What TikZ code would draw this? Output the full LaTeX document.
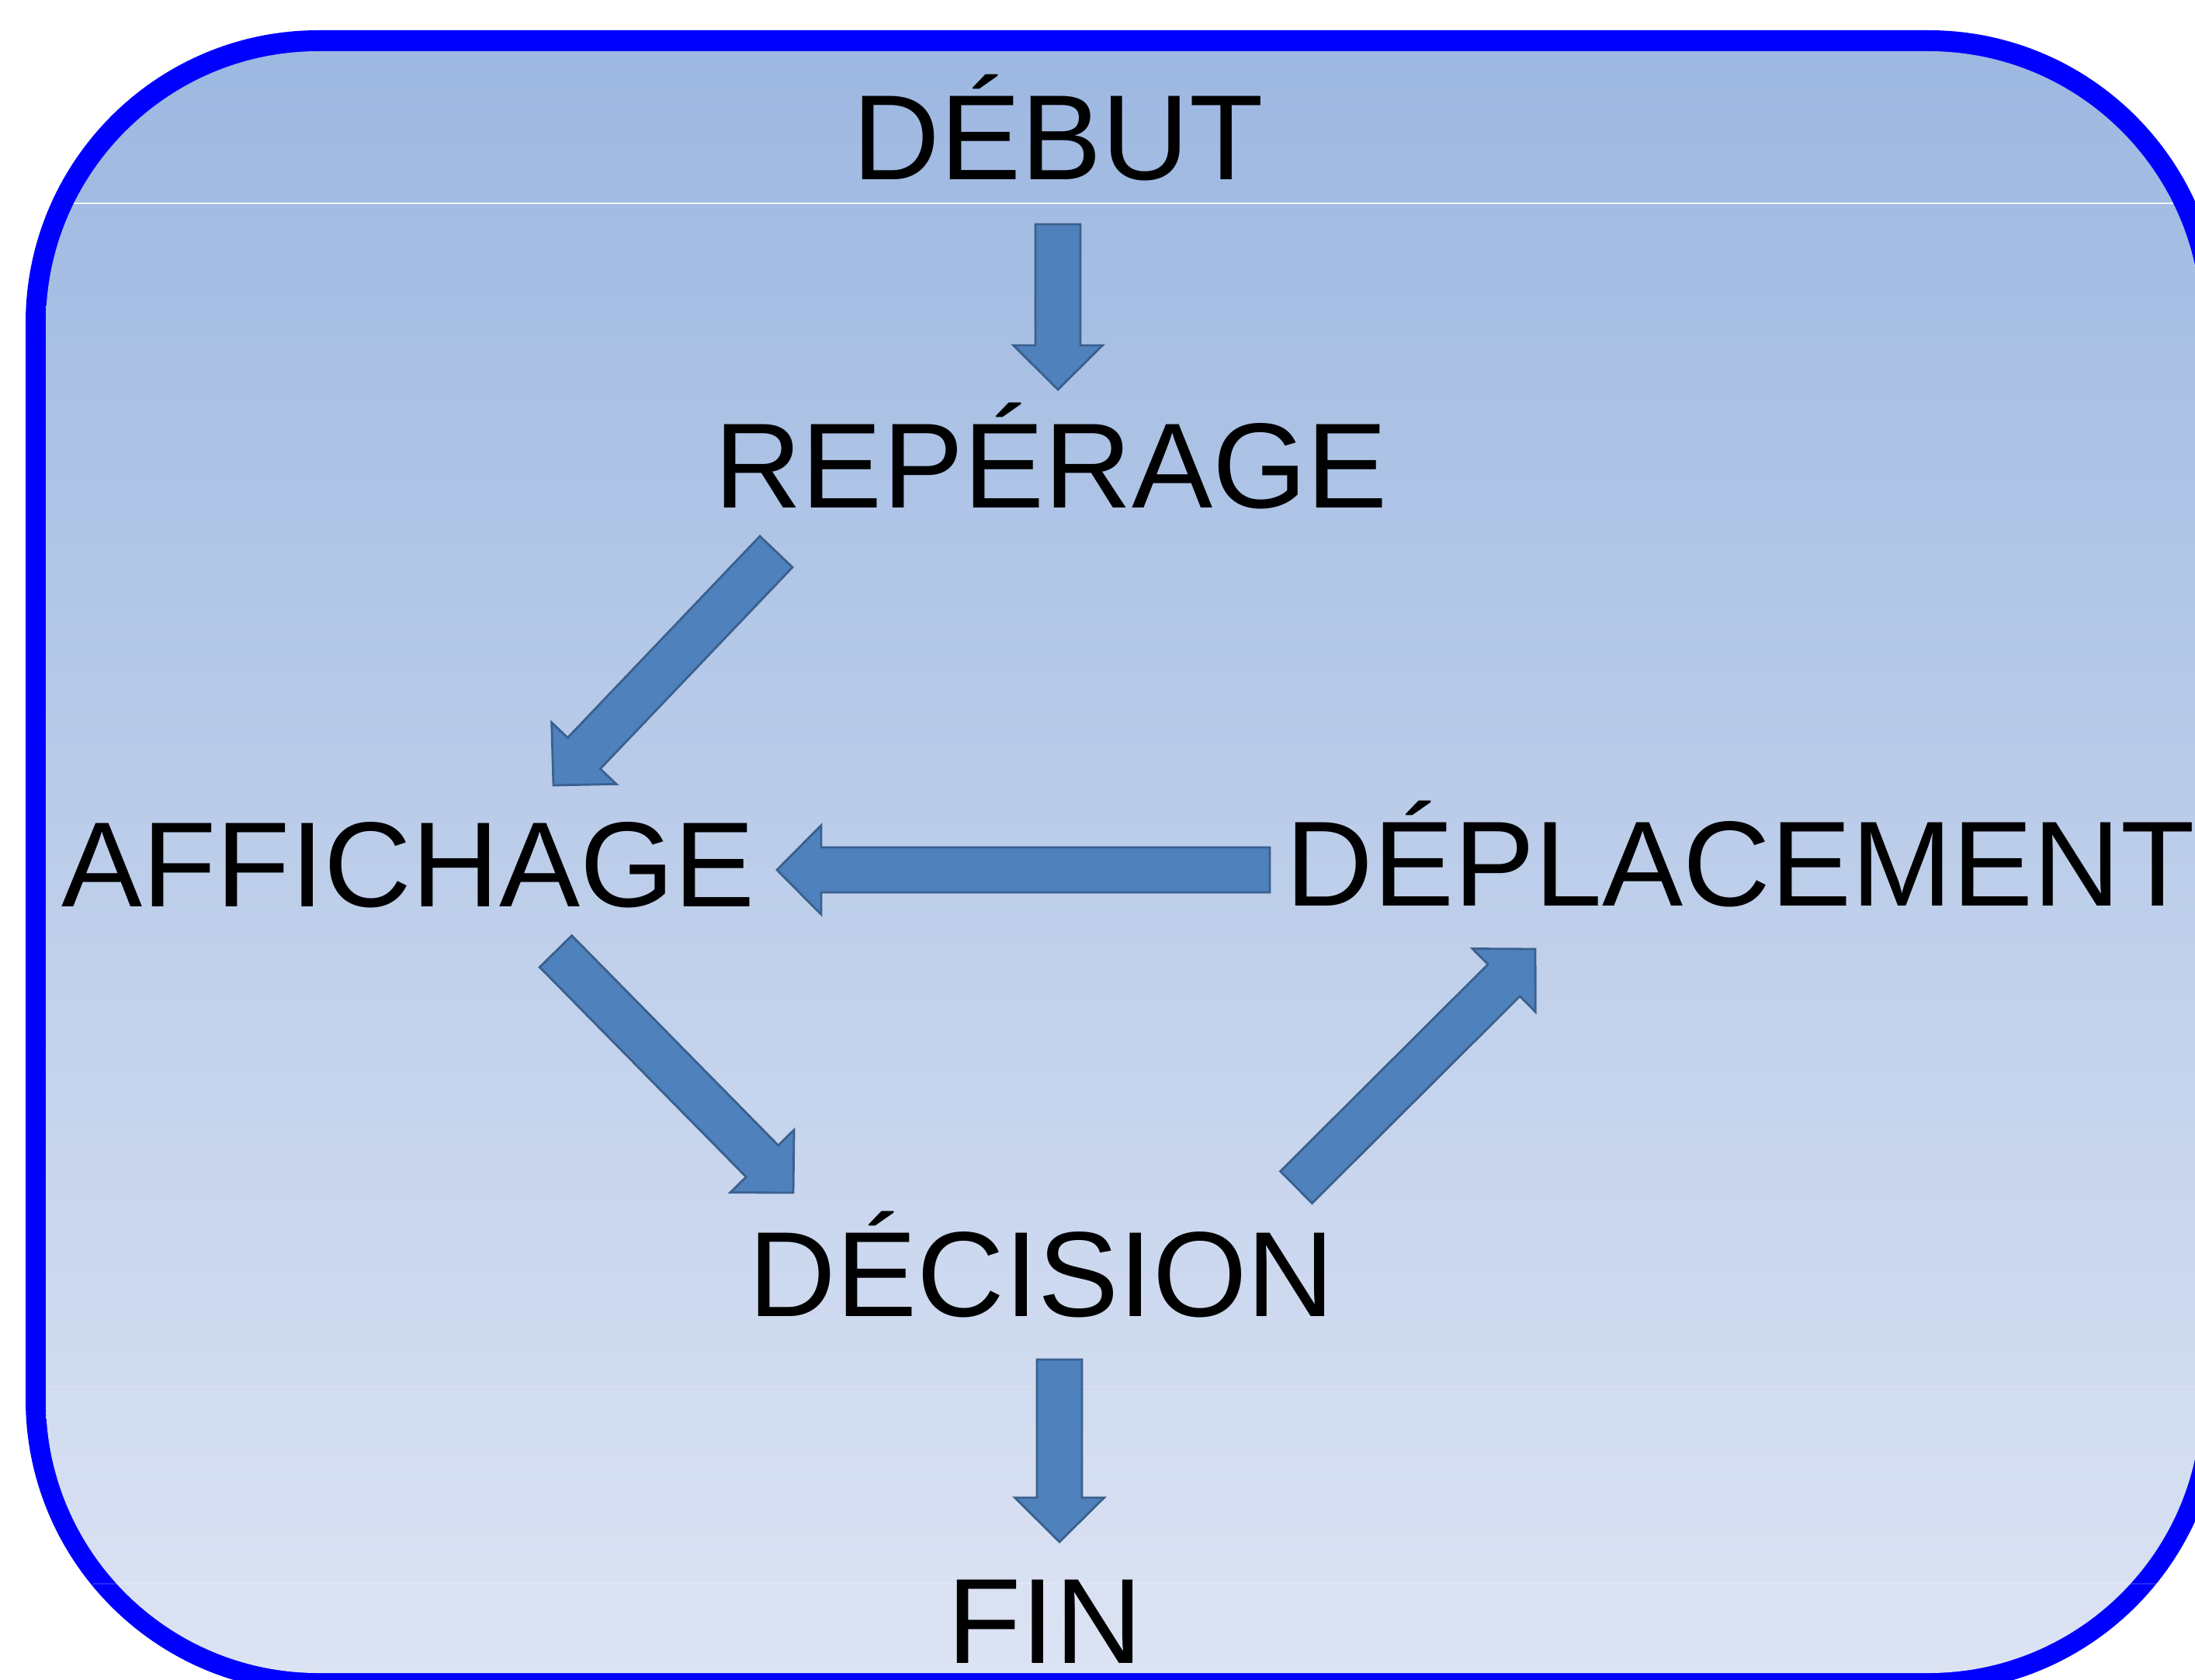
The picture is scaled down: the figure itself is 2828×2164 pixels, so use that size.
\documentclass[tikz,border=0pt]{standalone}
\usepackage{fontspec}
\setmainfont{Liberation Sans}
\usetikzlibrary{calc}
\definecolor{frameblue}{RGB}{0,0,255}
\definecolor{bgtop}{RGB}{157,184,225}
\definecolor{bgbot}{RGB}{220,227,243}
\definecolor{arrfill}{RGB}{79,129,189}
\definecolor{arredge}{RGB}{58,96,142}
\tikzset{
  lbl/.style={anchor=base, inner sep=0pt, text=black, font=\fontsize{44.4pt}{50pt}\selectfont},
  blockarrow/.style={fill=arrfill, draw=arredge, line width=0.8pt, line join=miter},
  faint/.style={draw=white, line width=0.5pt}
}
% block arrow from tail coordinate #1 to tip coordinate #2
\newcommand\blockarr[2]{%
  \coordinate (ba) at ($(#2)!0.57cm!(#1)$);
  \filldraw[blockarrow]
    ($(#1)!0.29cm!90:(#2)$) -- ($(ba)!0.29cm!90:(#2)$) -- ($(ba)!0.575cm!90:(#2)$)
    -- (#2)
    -- ($(ba)!0.575cm!-90:(#2)$) -- ($(ba)!0.29cm!-90:(#2)$) -- ($(#1)!0.29cm!-90:(#2)$) -- cycle;}
\begin{document}
\begin{tikzpicture}[x=0.01cm,y=-0.01cm]
\useasboundingbox (0,0) rectangle (2828,2164);
\clip (0,0) rectangle (2828,2164);
\fill[white] (0,0) rectangle (2828,2164);
% frame
\fill[frameblue, rounded corners=3.77cm] (33,39) rectangle (2862,2181);
\shade[top color=bgtop, bottom color=bgbot, rounded corners=3.51cm] (59,66) rectangle (2836,2156);
% faint banding lines
\draw[faint, opacity=0.85] (95,262) -- (2800,262);
\draw[faint, opacity=0.15] (59,1787) -- (2836,1787);
\draw[faint, opacity=0.15] (120,2041) -- (2780,2041);

% labels
\node[lbl] (debut) at (1363,232) {DÉBUT};
\node[lbl] (reperage) at (1354,654) {REPÉRAGE};
\node[lbl] (affichage) at (526,1168) {AFFICHAGE};
\node[lbl] (deplacement) at (2242,1167) {DÉPLACEMENT};
\node[lbl] (decision) at (1342,1696) {DÉCISION};
\node[lbl] (fin) at (1346,2143) {FIN};

% arrow ends
\coordinate (a1t) at (1363,289);  \coordinate (a1h) at (1363,502);
\coordinate (a2t) at (1000,711);  \coordinate (a2h) at (713,1012);
\coordinate (a3t) at (1636,1121); \coordinate (a3h) at (1001,1121);
\coordinate (a4t) at (716,1226);  \coordinate (a4h) at (1022,1537);
\coordinate (a5t) at (1670,1530); \coordinate (a5h) at (1978,1223);
\coordinate (a6t) at (1365,1752); \coordinate (a6h) at (1365,1987);

\blockarr{a1t}{a1h}
\blockarr{a2t}{a2h}
\blockarr{a3t}{a3h}
\blockarr{a4t}{a4h}
\blockarr{a5t}{a5h}
\blockarr{a6t}{a6h}
\end{tikzpicture}
\end{document}
